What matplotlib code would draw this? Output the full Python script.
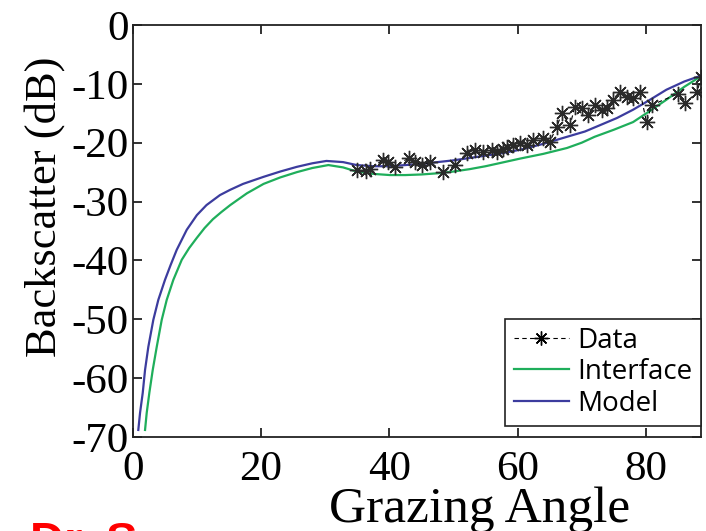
import matplotlib
matplotlib.use("Agg")
import matplotlib.pyplot as plt
from matplotlib.lines import Line2D

plt.rcParams["axes.unicode_minus"] = False

# ─── Data ───────────────────────────────────────────────────────────────────
data_angle = [35.0, 36.3, 37.0, 39.0, 39.8, 40.9, 43.0, 44.0, 45.1, 46.4,
              48.4, 50.3, 52.1, 53.4, 54.6, 56.0, 56.8, 57.7, 58.3, 59.3,
              60.4, 61.5, 62.4, 64.0, 65.0, 66.1, 66.9, 68.2, 68.9, 70.0,
              71.0, 72.1, 73.1, 73.9, 74.8, 75.9, 77.0, 78.0, 79.1, 80.1,
              80.9, 85.0, 86.1, 88.0, 88.6]
data_bs = [-24.6, -24.8, -24.5, -22.9, -23.3, -24.1, -22.6, -23.3, -23.8, -23.3,
           -25.0, -23.8, -21.7, -21.2, -21.6, -21.2, -21.6, -21.0, -20.7, -20.4,
           -20.0, -20.4, -19.5, -19.2, -19.9, -17.3, -15.0, -17.0, -13.9, -14.1,
           -15.3, -13.6, -14.4, -14.1, -12.7, -11.4, -12.2, -12.4, -11.4, -16.5,
           -13.6, -11.7, -13.3, -11.4, -8.8]

model_angle = [0.87, 1.14, 1.56, 1.92, 2.43, 3.21, 3.99, 5.03, 5.9, 6.86, 8.42,
               10.0, 11.5, 13.6, 15.2, 17.2, 20.4, 23.0, 25.6, 28.0, 30.2, 32.8,
               34.9, 37.5, 40.0, 42.5, 45.0, 47.5, 50.0, 52.5, 55.0, 57.5,
               60.4, 64.0, 67.7, 70.5, 72.9, 75.5, 78.0, 80.5, 83.2, 86.0, 88.6]
model_bs = [-68.8, -65.9, -62.5, -58.6, -54.7, -50.1, -46.7, -43.3, -40.8, -38.2,
            -34.8, -32.3, -30.6, -28.9, -28.0, -27.0, -25.8, -24.9, -24.1, -23.5,
            -23.1, -23.3, -23.8, -24.0, -24.0, -23.8, -23.6, -23.3, -23.0, -22.6,
            -22.2, -21.8, -21.2, -20.2, -19.0, -18.1, -17.0, -15.8, -14.4, -12.8,
            -11.0, -9.6, -8.6]

interface_angle = [1.92, 2.18, 2.59, 3.12, 3.74, 4.52, 5.30, 6.33, 7.64, 8.8,
                   9.97, 11.2, 12.5, 13.8, 15.2, 17.8, 20.4, 23.0, 25.6, 28.0,
                   30.5, 32.8, 34.9, 37.5, 40.1, 42.5, 45.0, 47.5, 50.0, 52.5,
                   55.0, 57.5, 60.4, 64.0, 67.7, 70.0, 72.0, 75.0, 78.0, 80.5,
                   83.2, 86.0, 88.6]
interface_bs = [-68.8, -65.9, -62.5, -58.6, -54.7, -50.1, -46.7, -43.3, -39.9,
                -37.9, -36.2, -34.5, -33.0, -31.8, -30.6, -28.6, -27.0, -25.9,
                -25.0, -24.3, -23.8, -24.2, -24.9, -25.3, -25.5, -25.5, -25.4,
                -25.2, -24.9, -24.5, -24.0, -23.4, -22.7, -21.9, -20.9, -20.0,
                -19.0, -17.8, -16.5, -14.7, -12.7, -10.5, -8.7]

x_ticks = [0, 20, 40, 60, 80]
y_ticks = [0, -10, -20, -30, -40, -50, -60, -70]

GREEN = "#1fae5b"
BLUE = "#3c3c9e"
SERIF = "Liberation Serif"

fig = plt.figure(figsize=(7.06, 5.31), dpi=100)
ax = fig.add_axes([0.188, 0.177, 0.805, 0.776])

ax.plot(interface_angle, interface_bs, color=GREEN, lw=1.6)
ax.plot(model_angle, model_bs, color=BLUE, lw=1.6)
ax.plot(data_angle, data_bs, color="black", lw=0.8, linestyle=(0, (4, 3)),
        marker=(8, 2, 0), markersize=11, markeredgewidth=1.0,
        markeredgecolor="#2a2a2a")

ax.set_xlim(0, 88.6)
ax.set_ylim(-70, 0)
ax.set_xticks(x_ticks)
ax.set_yticks(y_ticks)
ax.tick_params(direction="in", length=6.5, width=1.3, top=True, right=True,
               labelsize=31, pad=3, color="#222222")
ax.tick_params(axis="x", pad=10)
for lab in ax.get_xticklabels() + ax.get_yticklabels():
    lab.set_family(SERIF)
for sp in ax.spines.values():
    sp.set_linewidth(1.3)
    sp.set_color("#222222")

ax.set_xlabel("Grazing Angle", fontsize=37, family=SERIF)
ax.xaxis.set_label_coords(0.611, -0.12)
ax.set_ylabel("Backscatter (dB)", fontsize=32, family=SERIF)
ax.yaxis.set_label_coords(-0.12, 0.558)

handles = [
    Line2D([], [], color="black", lw=0.8, linestyle=(0, (4, 3)),
           marker=(8, 2, 0), markersize=10, markeredgewidth=1.0),
    Line2D([], [], color=GREEN, lw=1.6),
    Line2D([], [], color=BLUE, lw=1.6),
]
leg = ax.legend(handles, ["Data", "Interface", "Model"], loc="lower right",
                bbox_to_anchor=(1.0, 0.027), borderaxespad=0.0,
                prop={"family": "Open Sans", "size": 20},
                handlelength=2.0, handletextpad=0.3, labelspacing=0.12,
                borderpad=0.3, fancybox=False, framealpha=1.0)
leg.get_frame().set_edgecolor("#222222")
leg.get_frame().set_linewidth(1.2)

fig.text(30 / 706, 1 - 521 / 531, "Dr. S", color="red", fontsize=34,
         fontweight="bold", family="Liberation Sans", va="top", ha="left")

fig.savefig("out.png", dpi=100)
